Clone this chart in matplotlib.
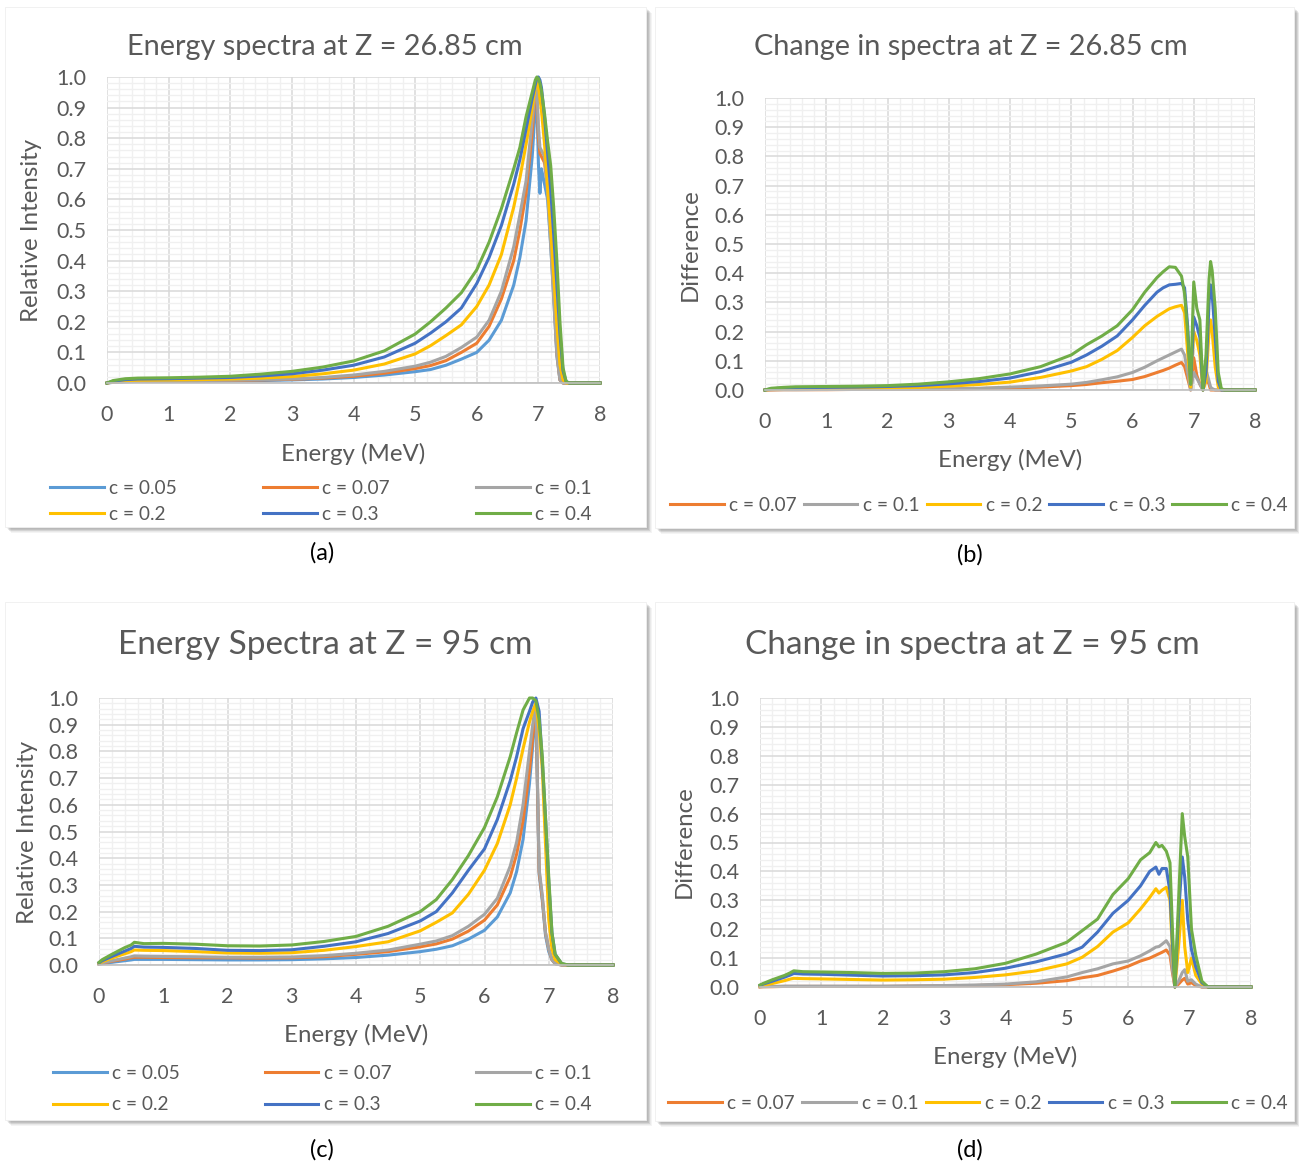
import matplotlib.pyplot as plt
from matplotlib.ticker import MultipleLocator, FormatStrFormatter
from matplotlib.patches import Rectangle

plt.rcParams['font.family'] = ['Lato', 'DejaVu Sans']

# ---- data -------------------------------------------------------------
labels = ['c = 0.05', 'c = 0.07', 'c = 0.1', 'c = 0.2', 'c = 0.3', 'c = 0.4']
colors = ['#5B9BD5', '#ED7D31', '#A5A5A5', '#FFC000', '#4472C4', '#70AD47']

# (a) spectra at Z = 26.85 cm
energy_a = [0, 0.1, 0.3, 0.5, 1, 1.5, 2, 2.5, 3, 3.5, 4, 4.5, 5, 5.25, 5.5, 5.75,
            6, 6.2, 6.4, 6.6, 6.7, 6.8, 6.9, 6.95, 6.975, 7.0, 7.025, 7.05, 7.1,
            7.15, 7.2, 7.25, 7.3, 7.35, 7.4, 7.45, 7.5, 8.0]
a_005 = [0, 0.002, 0.004, 0.005, 0.005, 0.006, 0.007, 0.008, 0.010, 0.013, 0.018, 0.026,
         0.037, 0.044, 0.058, 0.078, 0.10, 0.14, 0.205, 0.32, 0.41, 0.53, 0.74, 0.90,
         0.93, 0.72, 0.62, 0.70, 0.65, 0.60, 0.45, 0.28, 0.09, 0.01, 0, 0, 0, 0]
a_007 = [0, 0.003, 0.005, 0.005, 0.006, 0.007, 0.008, 0.010, 0.012, 0.016, 0.022, 0.032,
         0.047, 0.057, 0.073, 0.10, 0.13, 0.185, 0.275, 0.40, 0.50, 0.62, 0.82, 0.95,
         0.96, 0.80, 0.75, 0.74, 0.72, 0.64, 0.48, 0.30, 0.10, 0.01, 0, 0, 0, 0]
a_01 = [0, 0.003, 0.005, 0.006, 0.007, 0.008, 0.009, 0.011, 0.013, 0.018, 0.026, 0.038,
        0.055, 0.068, 0.087, 0.116, 0.15, 0.205, 0.30, 0.445, 0.55, 0.66, 0.86, 0.96,
        0.97, 0.84, 0.77, 0.76, 0.74, 0.62, 0.45, 0.27, 0.09, 0.01, 0, 0, 0, 0]
a_02 = [0, 0.004, 0.008, 0.009, 0.010, 0.011, 0.013, 0.016, 0.021, 0.030, 0.042, 0.062,
        0.095, 0.122, 0.155, 0.19, 0.25, 0.32, 0.42, 0.575, 0.67, 0.78, 0.90, 0.965,
        0.99, 0.97, 0.93, 0.89, 0.78, 0.64, 0.50, 0.35, 0.19, 0.06, 0.01, 0, 0, 0]
a_03 = [0, 0.006, 0.011, 0.013, 0.014, 0.016, 0.018, 0.023, 0.030, 0.042, 0.058, 0.085,
        0.13, 0.163, 0.20, 0.245, 0.325, 0.41, 0.515, 0.65, 0.73, 0.83, 0.93, 0.975,
        0.995, 1.0, 0.99, 0.965, 0.87, 0.75, 0.63, 0.48, 0.32, 0.16, 0.04, 0.005, 0, 0]
a_04 = [0, 0.008, 0.014, 0.016, 0.017, 0.019, 0.022, 0.029, 0.038, 0.052, 0.072, 0.105,
        0.16, 0.20, 0.245, 0.295, 0.37, 0.46, 0.57, 0.70, 0.77, 0.87, 0.95, 0.99,
        1.0, 0.995, 0.98, 0.955, 0.88, 0.79, 0.71, 0.57, 0.40, 0.20, 0.05, 0.005, 0, 0]

# (b) change in spectra at Z = 26.85 cm
energy_b = [0, 0.1, 0.3, 0.5, 1, 1.5, 2, 2.5, 3, 3.5, 4, 4.5, 5, 5.25, 5.5, 5.75,
            6, 6.2, 6.4, 6.5, 6.6, 6.7, 6.8, 6.85, 6.9, 6.95, 7.0, 7.05, 7.1, 7.15,
            7.2, 7.25, 7.275, 7.3, 7.35, 7.4, 7.45, 7.5, 8.0]
b_007 = [0, 0, 0.001, 0.001, 0.001, 0.002, 0.002, 0.002, 0.003, 0.005, 0.007, 0.010,
         0.015, 0.019, 0.025, 0.030, 0.036, 0.046, 0.060, 0.067, 0.075, 0.085, 0.094,
         0.08, 0.04, 0.0, 0.11, 0.05, 0.02, 0.0, 0.04, 0.02, 0.0, 0, 0, 0, 0, 0, 0]
b_01 = [0, 0.001, 0.001, 0.001, 0.002, 0.002, 0.002, 0.003, 0.004, 0.006, 0.010, 0.014,
        0.020, 0.026, 0.035, 0.045, 0.060, 0.078, 0.10, 0.11, 0.12, 0.13, 0.14,
        0.12, 0.06, 0.0, 0.06, 0.04, 0.02, 0.0, 0.07, 0.03, 0.01, 0.005, 0, 0, 0, 0, 0]
b_02 = [0, 0.002, 0.004, 0.005, 0.005, 0.006, 0.007, 0.009, 0.013, 0.019, 0.027, 0.043,
        0.065, 0.08, 0.105, 0.135, 0.18, 0.22, 0.252, 0.265, 0.278, 0.285, 0.29,
        0.265, 0.13, 0.01, 0.20, 0.17, 0.12, 0.0, 0.03, 0.20, 0.24, 0.20, 0.08, 0.01, 0, 0, 0]
b_03 = [0, 0.004, 0.007, 0.008, 0.009, 0.010, 0.012, 0.015, 0.021, 0.029, 0.041, 0.063,
        0.095, 0.12, 0.15, 0.185, 0.24, 0.29, 0.335, 0.35, 0.36, 0.362, 0.365,
        0.35, 0.22, 0.02, 0.25, 0.22, 0.18, 0.0, 0.06, 0.30, 0.36, 0.33, 0.18, 0.03, 0, 0, 0]
b_04 = [0, 0.006, 0.009, 0.011, 0.012, 0.013, 0.015, 0.020, 0.028, 0.039, 0.055, 0.08,
        0.12, 0.155, 0.185, 0.22, 0.275, 0.335, 0.385, 0.405, 0.422, 0.42, 0.39,
        0.33, 0.20, 0.02, 0.37, 0.28, 0.24, 0.0, 0.12, 0.38, 0.44, 0.41, 0.28, 0.06, 0.005, 0, 0]

# (c) spectra at Z = 95 cm
energy_c = [0, 0.05, 0.2, 0.4, 0.5, 0.55, 0.7, 1, 1.5, 2, 2.5, 3, 3.5, 4, 4.5, 5,
            5.25, 5.5, 5.75, 6, 6.2, 6.4, 6.5, 6.6, 6.7, 6.75, 6.8, 6.85, 6.9, 6.95,
            7.0, 7.05, 7.1, 7.2, 7.3, 8.0]
c_005 = [0.003, 0.005, 0.010, 0.016, 0.019, 0.021, 0.021, 0.021, 0.020, 0.019, 0.019,
         0.020, 0.023, 0.028, 0.037, 0.050, 0.059, 0.072, 0.097, 0.13, 0.18, 0.27,
         0.35, 0.47, 0.68, 0.82, 0.97, 0.34, 0.24, 0.11, 0.05, 0.02, 0.005, 0, 0, 0]
c_007 = [0.004, 0.007, 0.014, 0.022, 0.027, 0.029, 0.029, 0.028, 0.027, 0.027, 0.026,
         0.027, 0.031, 0.040, 0.050, 0.068, 0.079, 0.097, 0.127, 0.168, 0.225, 0.33,
         0.415, 0.54, 0.73, 0.85, 0.98, 0.35, 0.25, 0.12, 0.06, 0.02, 0.005, 0, 0, 0]
c_01 = [0.004, 0.008, 0.016, 0.026, 0.031, 0.034, 0.033, 0.032, 0.031, 0.029, 0.029,
        0.030, 0.035, 0.044, 0.056, 0.078, 0.090, 0.11, 0.145, 0.19, 0.25, 0.37,
        0.46, 0.60, 0.80, 0.90, 0.99, 0.36, 0.26, 0.12, 0.06, 0.02, 0.005, 0, 0, 0]
c_02 = [0.006, 0.012, 0.026, 0.042, 0.050, 0.056, 0.055, 0.054, 0.050, 0.045, 0.044,
        0.046, 0.055, 0.069, 0.087, 0.128, 0.16, 0.195, 0.265, 0.355, 0.455, 0.60,
        0.70, 0.81, 0.91, 0.95, 0.98, 0.88, 0.73, 0.45, 0.17, 0.06, 0.02, 0.003, 0, 0]
c_03 = [0.008, 0.016, 0.032, 0.052, 0.062, 0.070, 0.067, 0.066, 0.062, 0.055, 0.054,
        0.057, 0.070, 0.087, 0.118, 0.165, 0.20, 0.27, 0.355, 0.435, 0.545, 0.69,
        0.78, 0.885, 0.95, 0.985, 1.0, 0.95, 0.76, 0.55, 0.31, 0.12, 0.04, 0.005, 0, 0]
c_04 = [0.010, 0.020, 0.040, 0.065, 0.075, 0.085, 0.080, 0.081, 0.078, 0.072, 0.071,
        0.075, 0.088, 0.107, 0.145, 0.20, 0.245, 0.32, 0.41, 0.515, 0.63, 0.78,
        0.87, 0.955, 1.0, 1.0, 0.99, 0.92, 0.78, 0.55, 0.33, 0.12, 0.04, 0.006, 0, 0]

# (d) change in spectra at Z = 95 cm
energy_d = [0, 0.05, 0.2, 0.4, 0.5, 0.55, 0.7, 1, 1.5, 2, 2.5, 3, 3.5, 4, 4.5, 5,
            5.25, 5.5, 5.75, 6, 6.2, 6.35, 6.45, 6.5, 6.55, 6.62, 6.68, 6.72, 6.76,
            6.82, 6.88, 6.92, 6.97, 7.03, 7.1, 7.2, 7.3, 8.0]
d_007 = [0, 0.001, 0.001, 0.002, 0.002, 0.002, 0.002, 0.002, 0.002, 0.002, 0.003,
         0.004, 0.005, 0.008, 0.013, 0.022, 0.032, 0.040, 0.055, 0.072, 0.09, 0.10,
         0.11, 0.115, 0.12, 0.128, 0.11, 0.05, 0.0, 0.01, 0.024, 0.03, 0.01, 0.015,
         0.005, 0, 0, 0]
d_01 = [0.001, 0.001, 0.002, 0.003, 0.003, 0.003, 0.003, 0.003, 0.003, 0.003, 0.004,
        0.005, 0.007, 0.010, 0.018, 0.035, 0.050, 0.063, 0.080, 0.09, 0.108, 0.125,
        0.138, 0.14, 0.148, 0.16, 0.14, 0.06, 0.0, 0.02, 0.05, 0.06, 0.02, 0.025,
        0.01, 0, 0, 0]
d_02 = [0.003, 0.006, 0.012, 0.022, 0.028, 0.030, 0.029, 0.028, 0.026, 0.024, 0.025,
        0.027, 0.033, 0.042, 0.056, 0.080, 0.103, 0.14, 0.19, 0.222, 0.27, 0.31,
        0.34, 0.325, 0.335, 0.345, 0.30, 0.12, 0.0, 0.14, 0.30, 0.14, 0.05, 0.10,
        0.04, 0.01, 0, 0]
d_03 = [0.005, 0.010, 0.020, 0.034, 0.042, 0.047, 0.045, 0.044, 0.041, 0.038, 0.039,
        0.042, 0.050, 0.065, 0.087, 0.115, 0.138, 0.19, 0.255, 0.30, 0.35, 0.40,
        0.415, 0.39, 0.41, 0.41, 0.33, 0.15, 0.0, 0.25, 0.45, 0.38, 0.23, 0.13,
        0.07, 0.015, 0, 0]
d_04 = [0.007, 0.012, 0.025, 0.040, 0.050, 0.056, 0.053, 0.052, 0.050, 0.047, 0.048,
        0.053, 0.063, 0.082, 0.114, 0.155, 0.195, 0.235, 0.32, 0.375, 0.44, 0.465,
        0.50, 0.485, 0.49, 0.47, 0.43, 0.20, 0.0, 0.30, 0.60, 0.52, 0.45, 0.20,
        0.11, 0.02, 0, 0]

# ---- layout helpers (pixel positions on a 1299 x 1166 canvas) -----------
W, H = 1299, 1166
TEXT = '#595959'
fig = plt.figure(figsize=(W / 100, H / 100), dpi=100)
fig.patch.set_facecolor('white')


def fx(x):
    return x / W


def fy(y):
    return 1 - y / H


def card(x0, y0, x1, y1):
    # soft drop shadow, then the white chart area
    for k in range(7):
        fig.patches.append(Rectangle((fx(x0 + 2 + k * 0.6), fy(y1 + 2 + k * 0.6)),
                                     (x1 - x0) / W, (y1 - y0) / H,
                                     transform=fig.transFigure, facecolor='#000000',
                                     alpha=0.045, edgecolor='none', zorder=-20))
    fig.patches.append(Rectangle((fx(x0), fy(y1)), (x1 - x0) / W, (y1 - y0) / H,
                                 transform=fig.transFigure, facecolor='white',
                                 edgecolor='#EFEFEF', lw=0.6, zorder=-10))


def chart(l, t, r, b):
    ax = fig.add_axes([fx(l), fy(b), (r - l) / W, (b - t) / H])
    ax.set_xlim(0, 8)
    ax.set_ylim(0, 1)
    ax.xaxis.set_major_locator(MultipleLocator(1))
    ax.xaxis.set_minor_locator(MultipleLocator(0.2))
    ax.yaxis.set_major_locator(MultipleLocator(0.1))
    ax.yaxis.set_minor_locator(MultipleLocator(0.02))
    ax.yaxis.set_major_formatter(FormatStrFormatter('%.1f'))
    ax.grid(which='major', color='#D9D9D9', lw=1.1)
    ax.grid(which='minor', color='#F0F0F0', lw=1.0)
    ax.set_axisbelow(True)
    ax.tick_params(which='both', length=0, labelsize=15.5, labelcolor=TEXT)
    ax.tick_params(axis='x', pad=16)
    ax.tick_params(axis='y', pad=15)
    for side in ['top', 'right', 'left']:
        ax.spines[side].set_visible(False)
    ax.spines['bottom'].set_color('#BFBFBF')
    ax.spines['bottom'].set_linewidth(1.2)
    return ax


def draw(ax, energy, series, cols, labs):
    handles = []
    for vals, col, lab in zip(series, cols, labs):
        h, = ax.plot(energy, vals, color=col, lw=2.2, label=lab,
                     solid_joinstyle='round', clip_on=False)
        handles.append(h)
    return handles


def legend(ax, handles, x0, y0, x1, y1, ncol, spacing):
    ax.legend(handles=handles, ncol=ncol, loc='upper left',
              bbox_to_anchor=(fx(x0), fy(y1), (x1 - x0) / W, (y1 - y0) / H),
              bbox_transform=fig.transFigure, mode='expand', frameon=False,
              fontsize=13.8, labelcolor=TEXT, handlelength=2.8, handletextpad=0.3,
              borderpad=0, borderaxespad=0, labelspacing=spacing, columnspacing=0.5)


# ---- cards ---------------------------------------------------------------
card(5, 7, 646, 527)
card(655, 7, 1294, 528)
card(5, 602, 646, 1120)
card(655, 602, 1294, 1121)

# (a)
ax_a = chart(107, 77, 600, 383)
h = draw(ax_a, energy_a, [a_005, a_007, a_01, a_02, a_03, a_04], colors, labels)
legend(ax_a, [h[0], h[3], h[1], h[4], h[2], h[5]], 50, 480, 592, 528, 3, 0.45)
fig.text(fx(325), fy(47), 'Energy spectra at Z = 26.85 cm', ha='center', va='center',
         fontsize=20.8, color=TEXT)
fig.text(fx(32), fy(230), 'Relative Intensity', ha='center', va='center', rotation=90,
         fontsize=17.3, color=TEXT)
fig.text(fx(353), fy(454), 'Energy (MeV)', ha='center', va='center', fontsize=17.3, color=TEXT)

# (b)
ax_b = chart(765, 98, 1255, 390)
h = draw(ax_b, energy_b, [b_007, b_01, b_02, b_03, b_04], colors[1:], labels[1:])
legend(ax_b, h, 670, 497, 1288, 522, 5, 0.3)
fig.text(fx(971), fy(47), 'Change in spectra at Z = 26.85 cm', ha='center', va='center',
         fontsize=20.8, color=TEXT)
fig.text(fx(690), fy(245), 'Difference', ha='center', va='center', rotation=90,
         fontsize=17.3, color=TEXT)
fig.text(fx(1010), fy(460), 'Energy (MeV)', ha='center', va='center', fontsize=17.3, color=TEXT)

# (c)
ax_c = chart(99, 698, 613, 965)
h = draw(ax_c, energy_c, [c_005, c_007, c_01, c_02, c_03, c_04], colors, labels)
legend(ax_c, [h[0], h[3], h[1], h[4], h[2], h[5]], 53, 1065, 592, 1117, 3, 0.75)
fig.text(fx(325), fy(645), 'Energy Spectra at Z = 95 cm', ha='center', va='center',
         fontsize=24, color=TEXT)
fig.text(fx(28), fy(832), 'Relative Intensity', ha='center', va='center', rotation=90,
         fontsize=17.3, color=TEXT)
fig.text(fx(356), fy(1035), 'Energy (MeV)', ha='center', va='center', fontsize=17.3, color=TEXT)

# (d)
ax_d = chart(760, 698, 1251, 987)
h = draw(ax_d, energy_d, [d_007, d_01, d_02, d_03, d_04], colors[1:], labels[1:])
legend(ax_d, h, 668, 1095, 1288, 1120, 5, 0.3)
fig.text(fx(972), fy(645), 'Change in spectra at Z = 95 cm', ha='center', va='center',
         fontsize=24, color=TEXT)
fig.text(fx(684), fy(842), 'Difference', ha='center', va='center', rotation=90,
         fontsize=17.3, color=TEXT)
fig.text(fx(1005), fy(1057), 'Energy (MeV)', ha='center', va='center', fontsize=17.3, color=TEXT)

# panel captions
for x, y, s in [(322, 553, '(a)'), (970, 555, '(b)'), (322, 1150, '(c)'), (970, 1150, '(d)')]:
    fig.text(fx(x), fy(y), s, ha='center', va='center', fontsize=17, color='#000000')

fig.savefig('out.png', dpi=100, facecolor='white')
